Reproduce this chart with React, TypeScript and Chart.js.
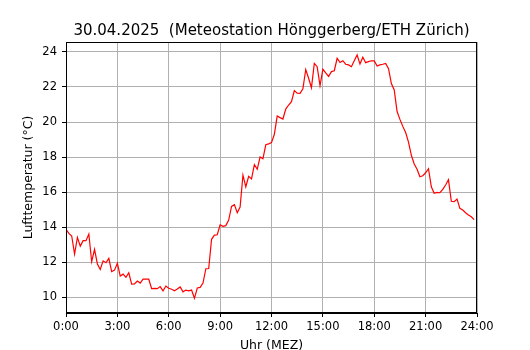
import React, { useEffect, useRef } from "react";
import { Chart, registerables } from "chart.js";

Chart.register(...registerables);

const TITLE = "30.04.2025  (Meteostation Hönggerberg/ETH Zürich)";
const X_LABEL = "Uhr (MEZ)";
const Y_LABEL = "Lufttemperatur (°C)";

// 10-minute readings, 0:00 .. 23:50
const temperatures: number[] = [
  13.87, 13.64, 13.49, 12.46, 13.41, 12.91, 13.22, 13.22, 13.6, 12.02,
  12.73, 11.89, 11.58, 12.07, 11.96, 12.21, 11.45, 11.54, 11.93, 11.2,
  11.31, 11.13, 11.39, 10.74, 10.75, 10.92, 10.8, 11.02, 11.02, 11.02,
  10.48, 10.5, 10.48, 10.6, 10.36, 10.63, 10.5, 10.45, 10.36, 10.46,
  10.58, 10.3, 10.4, 10.36, 10.4, 9.93, 10.52, 10.55, 10.8, 11.62,
  11.63, 13.3, 13.54, 13.56, 14.12, 14.04, 14.08, 14.4, 15.18, 15.28,
  14.82, 15.14, 16.97, 16.3, 16.9, 16.75, 17.57, 17.3, 18.0, 17.9,
  18.7, 18.75, 18.82, 19.3, 20.34, 20.25, 20.17, 20.74, 20.97, 21.16,
  21.79, 21.65, 21.64, 21.9, 23.0, 22.5, 21.96, 23.35, 23.16, 22.07,
  23.01, 22.8, 22.6, 22.88, 22.93, 23.64, 23.4, 23.5, 23.3, 23.26,
  23.16, 23.5, 23.83, 23.31, 23.7, 23.39, 23.45, 23.5, 23.49, 23.2,
  23.26, 23.3, 23.35, 23.05, 22.2, 21.83, 20.6, 20.15, 19.75, 19.4,
  18.85, 18.1, 17.6, 17.3, 16.87, 16.93, 17.1, 17.33, 16.3, 15.93,
  15.98, 15.96, 16.15, 16.4, 16.7, 15.47, 15.45, 15.6, 15.07, 14.97,
  14.82, 14.69, 14.59, 14.42,
];

const STEP_HOURS = 10 / 60;
const xTicks: number[] = [0, 3, 6, 9, 12, 15, 18, 21, 24];
const yTicks: number[] = [10, 12, 14, 16, 18, 20, 22, 24];
const Y_MIN = 9.09;
const Y_MAX = 24.57;

const FONT = "DejaVu Sans";

export default function App() {
  const ref = useRef<HTMLCanvasElement | null>(null);

  useEffect(() => {
    document.body.style.margin = "0";
    const canvas = ref.current;
    if (!canvas) return;

    const points = temperatures.map((t, i) => ({ x: i * STEP_HOURS, y: t }));

    const framePlugin = {
      id: "frame",
      afterDraw(chart: any) {
        const { ctx, chartArea } = chart;
        ctx.save();
        ctx.strokeStyle = "#000";
        ctx.lineWidth = 1;
        ctx.strokeRect(
          Math.round(chartArea.left) + 0.5,
          Math.round(chartArea.top) + 0.5,
          Math.round(chartArea.right - chartArea.left) - 1,
          Math.round(chartArea.bottom - chartArea.top) - 1
        );
        const cx = (chartArea.left + chartArea.right) / 2;
        const cy = (chartArea.top + chartArea.bottom) / 2;
        ctx.fillStyle = "#000";
        ctx.textAlign = "center";
        ctx.textBaseline = "alphabetic";
        ctx.font = `15px "${FONT}"`;
        ctx.fillText(TITLE, cx, 35);
        ctx.font = `12.5px "${FONT}"`;
        ctx.fillText(X_LABEL, cx, 348.5);
        ctx.translate(31.5, cy);
        ctx.rotate(-Math.PI / 2);
        ctx.fillText(Y_LABEL, 0, 0);
        ctx.restore();
      },
    };

    const chart = new Chart(canvas, {
      type: "line",
      data: {
        datasets: [
          {
            data: points,
            borderColor: "#ff0000",
            borderWidth: 1.2,
            pointRadius: 0,
            tension: 0,
            fill: false,
          },
        ],
      },
      options: {
        responsive: false,
        animation: false,
        events: [],
        layout: { padding: { left: 0, right: 53, top: 42, bottom: 0 } },
        plugins: {
          legend: { display: false },
          title: { display: false },
          tooltip: { enabled: false },
        },
        scales: {
          x: {
            type: "linear",
            min: 0,
            max: 24,
            afterBuildTicks: (s: any) => {
              s.ticks = xTicks.map((v) => ({ value: v }));
            },
            afterFit: (s: any) => {
              s.height = 37;
            },
            ticks: {
              callback: (v: any) => `${v}:00`,
              font: { family: FONT, size: 11.5 },
              color: "#000",
              padding: 3,
              maxRotation: 0,
              autoSkip: false,
            },
            grid: { color: "#b0b0b0", tickColor: "#000", tickLength: 4, lineWidth: 1 },
            border: { color: "#000", width: 1 },
          },
          y: {
            type: "linear",
            min: Y_MIN,
            max: Y_MAX,
            afterBuildTicks: (s: any) => {
              s.ticks = yTicks.map((v) => ({ value: v }));
            },
            afterFit: (s: any) => {
              s.width = 66;
            },
            ticks: {
              callback: (v: any) => `${v}`,
              font: { family: FONT, size: 11.5 },
              color: "#000",
              padding: 5,
              autoSkip: false,
            },
            grid: { color: "#b0b0b0", tickColor: "#000", tickLength: 4, lineWidth: 1 },
            border: { color: "#000", width: 1 },
          },
        },
      },
      plugins: [framePlugin],
    });

    return () => chart.destroy();
  }, []);

  return <canvas ref={ref} width={530} height={350} style={{ display: "block" }} />;
}
